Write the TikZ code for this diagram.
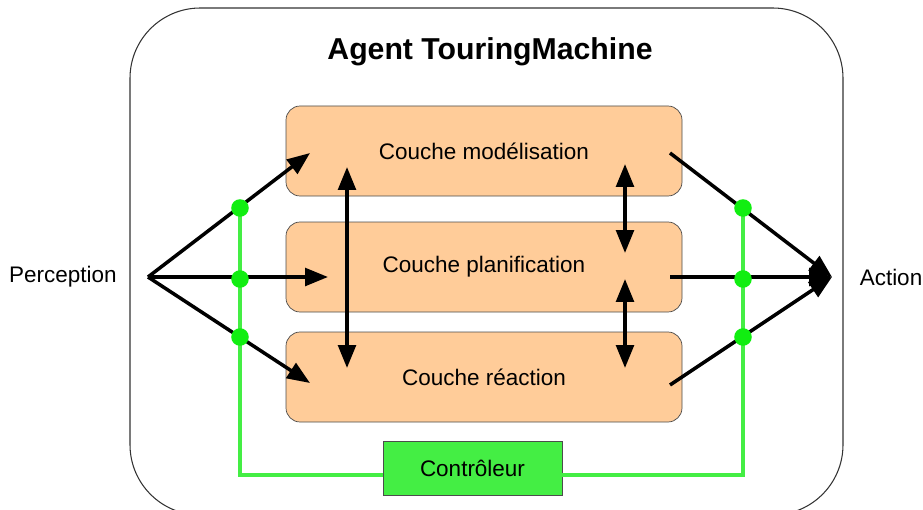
\documentclass[tikz,border=0pt]{standalone}
\usepackage{fontspec}
\setmainfont{Liberation Sans}
\usetikzlibrary{arrows.meta,calc}

\definecolor{peach}{HTML}{FFCC99}
\definecolor{ctrlgreen}{HTML}{44EE44}
\definecolor{dotgreen}{HTML}{11EE11}

\tikzset{
  couche/.style={draw=black!70,fill=peach,rounded corners=8pt,minimum width=396*0.02cm,minimum height=90*0.02cm,font=\fontsize{12.8}{15}\selectfont},
  fleche/.style={line width=2pt,-{Triangle[length=13pt,width=10pt]}},
  dfleche/.style={line width=2pt,{Triangle[length=13pt,width=10pt]}-{Triangle[length=13pt,width=10pt]}},
  fil/.style={draw=ctrlgreen,line width=1.8pt},
  point/.style={circle,fill=dotgreen,inner sep=0pt,minimum size=10pt},
  etiq/.style={font=\fontsize{12.8}{15}\selectfont}
}

\begin{document}
\begin{tikzpicture}[x=0.02cm,y=-0.02cm]
  \useasboundingbox (0,0) rectangle (923,510);
  \begin{scope}
    \clip (0,0) rectangle (923,510);
    \draw[black!80,line width=0.6pt,rounded corners=40pt] (130,8) rectangle (843,515);
  \end{scope}
  \node[font=\bfseries\fontsize{17.2}{20}\selectfont] (titre) at (490,52) {Agent TouringMachine};

  % les couches
  \node[couche] (modele) at (484,151) {Couche modélisation};
  \node[couche] (plan) at (484,267) {Couche planification};
  \node[couche] (reaction) at (484,377) {Couche réaction};

  \node[draw=black!70,fill=ctrlgreen,minimum width=179*0.02cm,minimum height=54*0.02cm,
    font=\fontsize{12.8}{15}\selectfont] (ctrl) at (472.5,468) {Contrôleur};

  \node[etiq] (perc) at (63,277) {Perception};
  \node[etiq] (action) at (891,277) {Action};

  \coordinate (p) at (148,277);
  \coordinate (a) at (832,277);
  \coordinate (m1) at (310,153);
  \coordinate (p1) at (328,277);
  \coordinate (r1) at (310,383);
  \coordinate (m2) at (670,153);
  \coordinate (p2) at (670,277);
  \coordinate (r2) at (670,385);

  % controleur
  \draw[fil] (ctrl.west |- 0,475) -- (240,475) -- (240,208);
  \draw[fil] (ctrl.east |- 0,475) -- (743,475) -- (743,208);

  \draw[fleche] (p) -- (m1);
  \draw[fleche] (p) -- (p1);
  \draw[fleche] (p) -- (r1);
  \draw[fleche] (m2) -- (a);
  \draw[fleche] (p2) -- (a);
  \draw[fleche] (r2) -- (a);

  \draw[dfleche] (347,167) -- (347,368);
  \draw[dfleche] (625,164) -- (625,253);
  \draw[dfleche] (625,279) -- (625,368);

  \foreach \x in {240,743}
    \foreach \y in {208,279,337}
      \node[point] at (\x,\y) {};
\end{tikzpicture}
\end{document}
